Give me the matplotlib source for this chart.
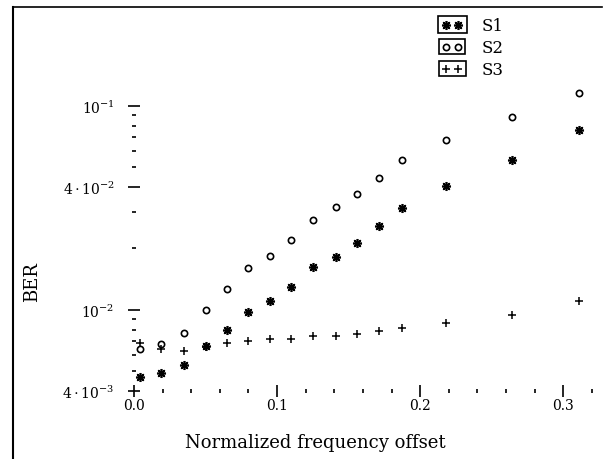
import matplotlib
matplotlib.use("Agg")
import matplotlib.pyplot as plt
from matplotlib.patches import Rectangle
from matplotlib.lines import Line2D
from matplotlib.ticker import LogLocator, FixedLocator, FixedFormatter, MultipleLocator, NullFormatter

# Data
offset = [0.004, 0.019, 0.035, 0.050, 0.065, 0.080, 0.095, 0.110,
          0.125, 0.141, 0.156, 0.171, 0.187, 0.218, 0.264, 0.311]
ber_s1 = [4.71e-3, 4.90e-3, 5.37e-3, 6.61e-3, 7.92e-3, 9.70e-3, 1.11e-2, 1.29e-2,
          1.63e-2, 1.81e-2, 2.12e-2, 2.56e-2, 3.15e-2, 4.05e-2, 5.43e-2, 7.62e-2]
ber_s2 = [6.4e-3, 6.8e-3, 7.7e-3, 1.00e-2, 1.26e-2, 1.61e-2, 1.84e-2, 2.19e-2,
          2.76e-2, 3.19e-2, 3.70e-2, 4.44e-2, 5.43e-2, 6.81e-2, 8.77e-2, 0.116]
ber_s3 = [6.85e-3, 6.45e-3, 6.31e-3, 6.6e-3, 6.91e-3, 7.07e-3, 7.18e-3, 7.18e-3,
          7.48e-3, 7.48e-3, 7.62e-3, 7.89e-3, 8.13e-3, 8.60e-3, 9.45e-3, 1.10e-2]

ytick_vals = [4e-3, 1e-2, 4e-2, 1e-1]
ytick_labels = [r"$4\cdot10^{-3}$", r"$10^{-2}$", r"$4\cdot10^{-2}$", r"$10^{-1}$"]

plt.rcParams["font.family"] = "DejaVu Serif"
plt.rcParams["mathtext.fontset"] = "dejavuserif"

fig = plt.figure(figsize=(6.16, 4.6), dpi=100)
ax = fig.add_axes([134 / 616, 68 / 460, 465 / 616, 308.5 / 460])

ax.plot(offset, ber_s1, linestyle="none", marker=(8, 2, 0), markersize=6.5,
        markeredgewidth=1.2, color="black", label="S1")
ax.plot(offset, ber_s2, linestyle="none", marker="o", markersize=4.5,
        markerfacecolor="none", markeredgewidth=1.2, color="black", label="S2")
ax.plot(offset, ber_s3, linestyle="none", marker="+", markersize=5.5,
        markeredgewidth=1.1, color="black", label="S3")

ax.set_yscale("log")
ax.set_xlim(0, 0.325)
ax.set_ylim(4e-3, 0.13)

for s in ax.spines.values():
    s.set_visible(False)

ax.xaxis.set_major_locator(MultipleLocator(0.1))
ax.xaxis.set_minor_locator(MultipleLocator(0.02))
ax.xaxis.set_major_formatter(plt.FuncFormatter(lambda v, p: f"{v:.1f}"))
ax.yaxis.set_major_locator(FixedLocator(ytick_vals))
ax.yaxis.set_major_formatter(FixedFormatter(ytick_labels))
ax.yaxis.set_minor_locator(LogLocator(base=10, subs=range(2, 10)))
ax.yaxis.set_minor_formatter(NullFormatter())

ax.tick_params(which="major", direction="inout", length=8, width=1.2, labelsize=10)
ax.tick_params(which="minor", direction="inout", length=2.5, width=1.2)
ax.tick_params(axis="y", which="major", pad=10)
ax.tick_params(axis="x", which="major", pad=1)

ax.set_xlabel("Normalized frequency offset", fontsize=13)
ax.xaxis.set_label_coords(0.39, -0.135)
ax.set_ylabel("BER", fontsize=13)
ax.yaxis.set_label_coords(-0.20, 0.357)

leg = fig.legend(loc="upper left", bbox_to_anchor=(433 / 616, 1 - 10 / 460),
                 frameon=False, numpoints=2, handlelength=1.3, handletextpad=1.1,
                 labelspacing=0.3, fontsize=12, borderpad=0)

# boxes around legend handles
fig.canvas.draw()
renderer = fig.canvas.get_renderer()
for line in leg.get_lines():
    bb = line.get_window_extent(renderer)
    x0, y0 = bb.x0 - 4, bb.y0 - 4
    w, h = bb.width + 8, bb.height + 8
    fig.patches.append(Rectangle((x0 / 616, y0 / 460), w / 616, h / 460,
                                 transform=fig.transFigure, fill=False,
                                 edgecolor="black", linewidth=1.2))

# page border (left and top)
fig.lines.append(Line2D([13 / 616, 13 / 616], [0, 1 - 8 / 460], transform=fig.transFigure,
                        color="black", linewidth=1.5))
fig.lines.append(Line2D([13 / 616, 602 / 616], [1 - 8 / 460, 1 - 8 / 460],
                        transform=fig.transFigure, color="black", linewidth=1.2))

fig.savefig("out.png", dpi=100)
